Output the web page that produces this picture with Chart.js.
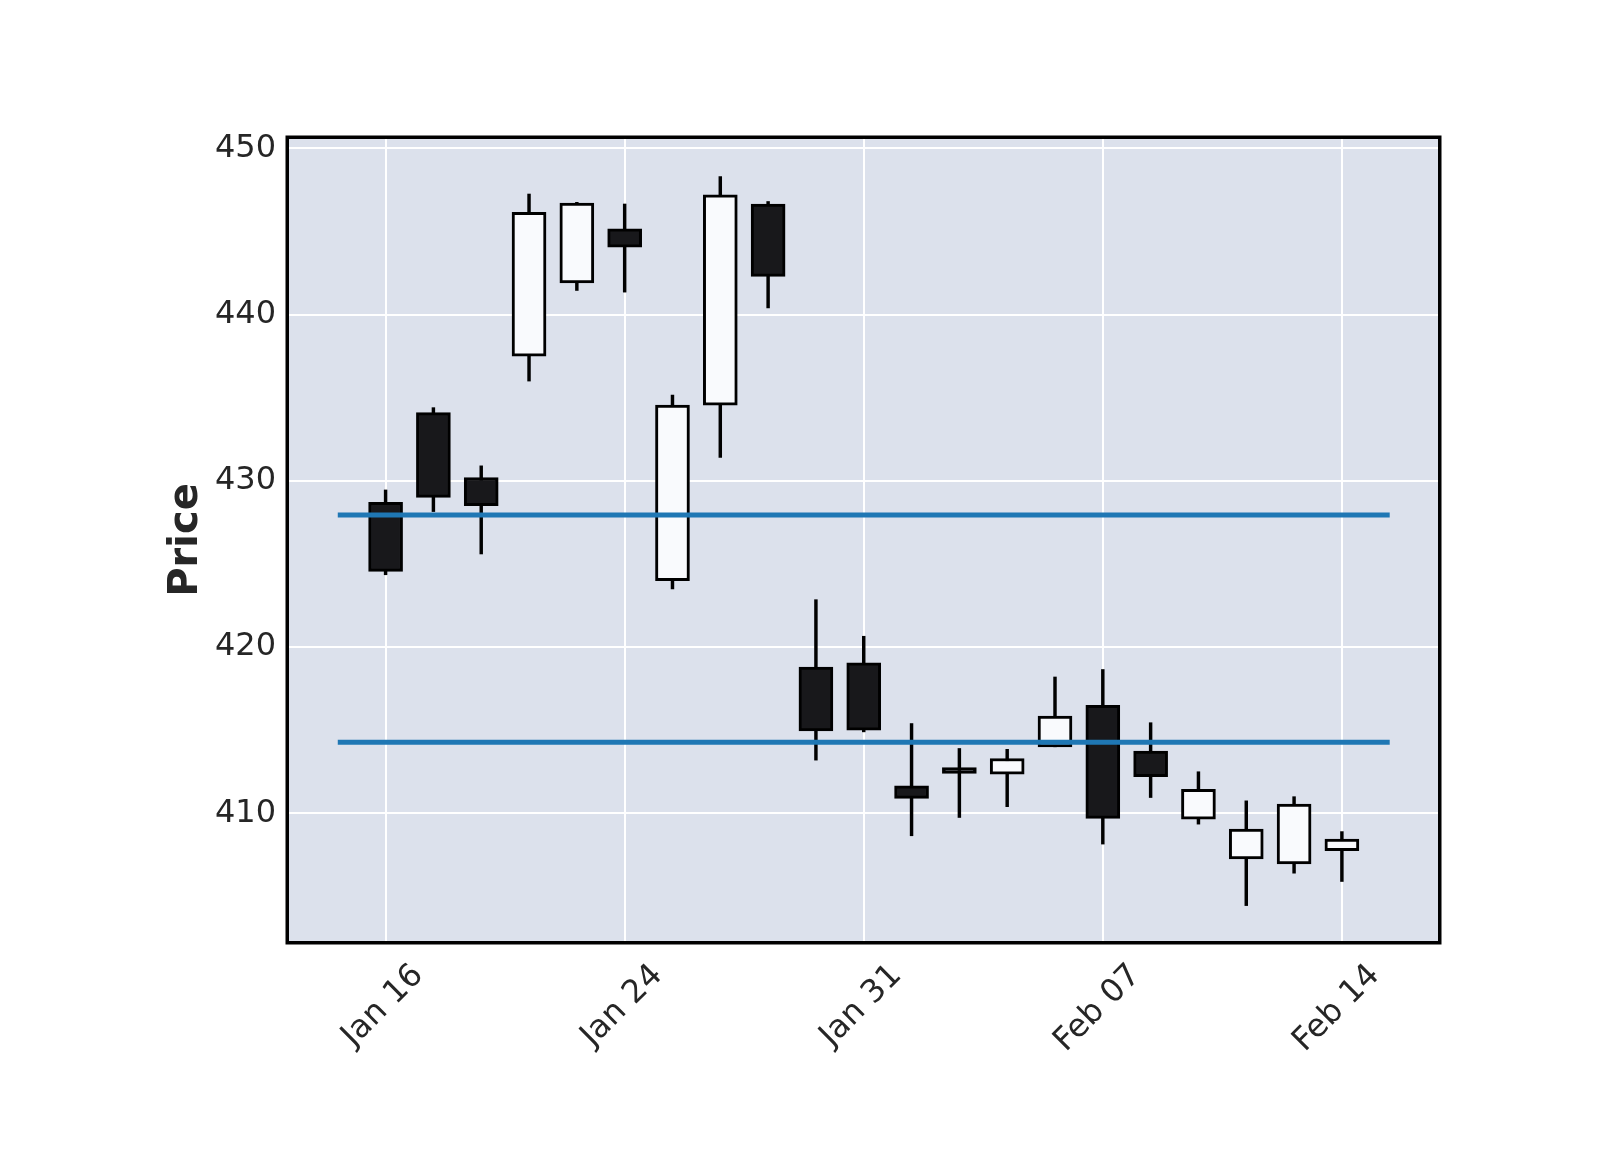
<!DOCTYPE html>
<html>
<head>
<meta charset="utf-8">
<script src="https://cdn.jsdelivr.net/npm/chart.js@4.4.1/dist/chart.umd.min.js"></script>
<style>
  html, body { margin: 0; padding: 0; background: #fff; }
  #c { display: block; }
</style>
</head>
<body>
<canvas id="c" width="1600" height="1150"></canvas>
<script>
// séances affichées (jours de bourse)
const dates = ['Jan 16', 'Jan 17', 'Jan 21', 'Jan 22', 'Jan 23', 'Jan 24', 'Jan 27', 'Jan 28', 'Jan 29', 'Jan 30',
  'Jan 31', 'Feb 03', 'Feb 04', 'Feb 05', 'Feb 06', 'Feb 07', 'Feb 10', 'Feb 11', 'Feb 12', 'Feb 13', 'Feb 14'];

const opens  = [428.70, 434.10, 430.20, 437.50, 441.90, 445.15, 424.00, 434.55, 446.65, 418.80, 419.05,
  411.65, 412.75, 412.35, 414.00, 416.50, 413.75, 409.65, 407.25, 406.95, 407.75];
const highs  = [429.45, 434.40, 430.90, 447.25, 446.75, 446.65, 435.15, 448.30, 446.80, 422.85, 420.65,
  415.40, 413.90, 413.85, 418.20, 418.65, 415.45, 412.50, 410.75, 411.00, 408.90];
const lows   = [424.35, 428.15, 425.60, 436.00, 441.45, 441.35, 423.50, 431.40, 440.40, 413.20, 414.90,
  408.65, 409.75, 410.40, 414.00, 408.15, 410.95, 409.35, 404.45, 406.40, 405.90];
const closes = [424.55, 429.00, 428.50, 446.15, 446.70, 444.05, 434.55, 447.20, 442.30, 414.95, 415.00,
  410.90, 412.40, 413.30, 415.85, 409.70, 412.20, 411.45, 409.05, 410.55, 408.45];

// niveaux horizontaux (hlines)
const levels = [427.94, 414.28];

const tickIdx = [0, 5, 10, 15, 20];
const yTicks = [410, 420, 430, 440, 450];

const FONT = 'DejaVu Sans';
const TXT = '#262626';

const bodyColors = closes.map((c, i) => c >= opens[i] ? '#f9fafd' : '#18181b');

// fond + cadre noir autour de la zone de tracé
const framePlugin = {
  id: 'frame',
  beforeDraw(chart) {
    const { ctx, chartArea: a } = chart;
    ctx.save();
    ctx.fillStyle = '#dce1ec';
    ctx.fillRect(a.left, a.top, a.width, a.height);
    ctx.restore();
  },
  afterDraw(chart) {
    const { ctx, chartArea: a } = chart;
    ctx.save();
    ctx.strokeStyle = '#000';
    ctx.lineWidth = 3.5;
    ctx.strokeRect(a.left - 1.75, a.top - 1.75, a.width + 3.5, a.height + 3.5);
    ctx.restore();
  }
};

new Chart(document.getElementById('c'), {
  type: 'bar',
  data: {
    datasets: [
      ...levels.map(lv => ({
        type: 'line',
        data: [{ x: -1, y: lv }, { x: dates.length, y: lv }],
        borderColor: '#1f77b4',
        borderWidth: 5,
        pointRadius: 0,
        order: 0,
      })),
      {
        // corps des bougies
        data: dates.map((d, i) => ({ x: i, y: [opens[i], closes[i]] })),
        backgroundColor: bodyColors,
        borderColor: '#000',
        borderWidth: 3,
        borderSkipped: false,
        grouped: false,
        barPercentage: 1,
        categoryPercentage: 1,
        maxBarThickness: 34,
        order: 1,
      },
      {
        // mèches
        data: dates.map((d, i) => ({ x: i, y: [lows[i], highs[i]] })),
        backgroundColor: '#000',
        borderWidth: 0,
        grouped: false,
        barPercentage: 1,
        categoryPercentage: 1,
        maxBarThickness: 2.8,
        order: 2,
      },
    ]
  },
  options: {
    responsive: false,
    animation: false,
    devicePixelRatio: 1,
    layout: { padding: { left: 0, top: 139, right: 162, bottom: 0 } },
    plugins: { legend: { display: false }, tooltip: { enabled: false } },
    scales: {
      x: {
        type: 'linear',
        min: -2.02, max: 22.01,
        offset: false,
        afterBuildTicks: s => { s.ticks = tickIdx.map(v => ({ value: v })); },
        afterFit: s => { s.height = 209; },
        grid: { color: '#ffffff', lineWidth: 2, drawTicks: false, offset: false },
        border: { display: false },
        ticks: {
          callback: v => dates[v],
          autoSkip: false,
          minRotation: 45, maxRotation: 45,
          labelOffset: 33,
          padding: 16,
          color: TXT,
          font: { family: FONT, size: 32 },
        },
      },
      y: {
        min: 402.32, max: 450.56,
        afterBuildTicks: s => { s.ticks = yTicks.map(v => ({ value: v })); },
        afterFit: s => { s.width = 289; },
        grid: { color: '#ffffff', lineWidth: 2, drawTicks: false },
        border: { display: false },
        ticks: { color: TXT, padding: 13, font: { family: FONT, size: 32 } },
        title: {
          display: true, text: 'Price', color: TXT,
          font: { family: FONT, size: 40, weight: 'bold' },
          padding: { top: 163, bottom: 0 },
        },
      },
    },
  },
  plugins: [framePlugin],
});
</script>
</body>
</html>
